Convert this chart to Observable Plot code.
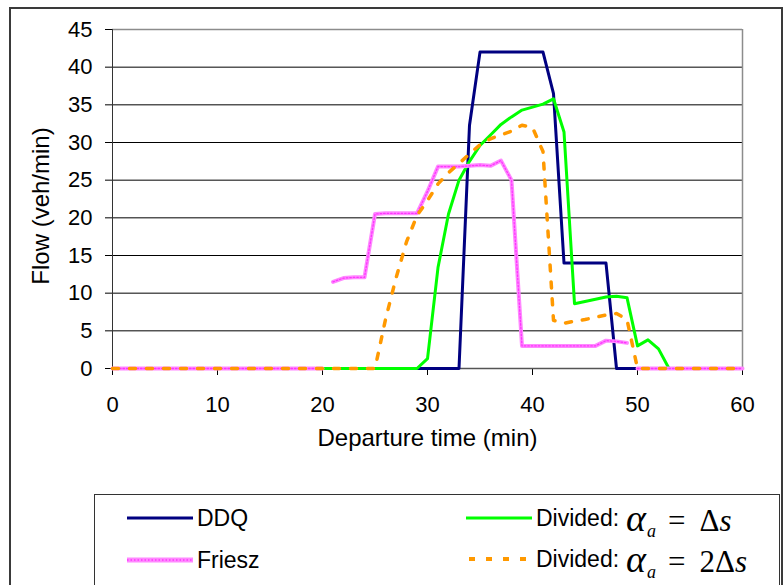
<!DOCTYPE html>
<html>
<head>
<meta charset="utf-8">
<script src="https://cdn.jsdelivr.net/npm/d3@7"></script>
<script src="https://cdn.jsdelivr.net/npm/@observablehq/plot@0.6"></script>
<style>
  html, body { margin: 0; padding: 0; background: #fff; }
  #wrap { position: relative; width: 784px; height: 585px; overflow: hidden; font-family: "Liberation Sans", Arial, sans-serif; }
  #outer { position: absolute; left: 9px; top: 7px; width: 770px; height: 600px; border: 2px solid #3a3a3a; }
  #chart { position: absolute; left: 0; top: 0; }
  #legend { position: absolute; left: 94px; top: 494px; width: 684px; height: 120px; border: 1px solid #333; background: #fff; }
  .item { position: absolute; display: flex; align-items: center; font-size: 23px; color: #000; white-space: nowrap; height: 40px; }
  .item svg { margin-right: 4px; }
  .math { font-family: "Liberation Serif", "DejaVu Serif", serif; font-size: 31px; margin-left: 7px; display: inline-flex; align-items: baseline; }
  .math .al { font-size: 38px; }
  .math sub { font-size: 18px; position: relative; top: 6px; margin-left: 1px; line-height: 1; }
  .math .eq { margin: 0 14px 0 12px; }
</style>
</head>
<body>
<div id="wrap">
  <div id="outer"></div>
  <div id="chart"></div>
  <div id="legend">
    <div class="item" style="left:32px; top:3px;"><svg width="66" height="10"><line x1="0" y1="5" x2="66" y2="5" stroke="#000080" stroke-width="3"/></svg>DDQ</div>
    <div class="item" style="left:32px; top:45px;"><svg width="66" height="10"><line x1="0" y1="5" x2="66" y2="5" stroke="#ff88ff" stroke-width="5"/><line x1="0" y1="5" x2="66" y2="5" stroke="#ff33ff" stroke-width="1.5" stroke-dasharray="1.5,2"/></svg>Friesz</div>
    <div class="item" style="left:371px; top:3px;"><svg width="66" height="10"><line x1="0" y1="5" x2="66" y2="5" stroke="#00ff00" stroke-width="3"/></svg>Divided:<span class="math"><i class="al">α</i><sub><i>a</i></sub><span class="eq">=</span>Δ<i>s</i></span></div>
    <div class="item" style="left:371px; top:44px;"><svg width="66" height="10"><line x1="3" y1="5" x2="66" y2="5" stroke="#ff9900" stroke-width="4" stroke-dasharray="6,11"/></svg>Divided:<span class="math"><i class="al">α</i><sub><i>a</i></sub><span class="eq">=</span>2Δ<i>s</i></span></div>
  </div>
</div>
<script>
// ---- data ----
const xTicks = [0, 10, 20, 30, 40, 50, 60];
const yTicks = [0, 5, 10, 15, 20, 25, 30, 35, 40, 45];

const ddqTime = [0, 33, 34, 35, 41, 42, 43, 47, 48, 60];
const ddqFlow = [0, 0, 32.3, 42, 42, 36.5, 14, 14, 0, 0];

const dividedTime = [0, 29, 30, 31, 32, 33, 34, 35, 36, 37, 38, 39, 40, 41, 42, 43, 44, 45, 46, 47, 48, 49, 50, 51, 52, 53, 60];
const dividedFlow = [0, 0, 1.3, 13.4, 20.5, 25, 27.5, 29.6, 31, 32.4, 33.4, 34.3, 34.7, 35.1, 35.8, 31.4, 8.6, 8.9, 9.2, 9.5, 9.6, 9.4, 3.0, 3.8, 2.6, 0, 0];

const frieszTime = [0, 20, 20.5, 21, 22, 23, 24, 25, 26, 27, 28, 29, 30, 31, 32, 33, 34, 35, 36, 37, 38, 39, 40, 41, 42, 43, 44, 45, 46, 47, 48, 49, 49.5, 50, 60];
const frieszFlow = [0, 0, null, 11.5, 12.0, 12.1, 12.1, 20.5, 20.6, 20.6, 20.6, 20.6, 23.5, 26.8, 26.8, 26.8, 26.9, 27.0, 26.9, 27.6, 25, 3, 3, 3, 3, 3, 3, 3, 3, 3.7, 3.6, 3.4, null, 0, 0];

const divided2Time = [0, 25, 26, 27, 28, 29, 30, 31, 32, 33, 34, 35, 36, 37, 38, 39, 40, 41, 42, 43, 44, 45, 46, 47, 48, 49, 50, 60];
const divided2Flow = [0, 0, 6.5, 12, 16.8, 20.3, 22.3, 24.5, 26, 27.2, 28.5, 29.7, 30.5, 31, 31.5, 32.3, 32, 28.8, 6.4, 6.0, 6.3, 6.5, 6.8, 7.1, 7.3, 6.5, 0, 0];

const toRows = (ts, vs) => ts.map((t, i) => ({t, v: vs[i]}));
const ddq = toRows(ddqTime, ddqFlow);
const divided = toRows(dividedTime, dividedFlow);
const friesz = toRows(frieszTime, frieszFlow);
const divided2 = toRows(divided2Time, divided2Flow);

const chart = Plot.plot({
  width: 784,
  height: 490,
  marginLeft: 112,
  marginRight: 42,
  marginTop: 29,
  marginBottom: 122,
  style: { fontFamily: "Liberation Sans, Arial, sans-serif", fontSize: "22px", color: "#000", background: "transparent", overflow: "visible" },
  x: { domain: [0, 60] },
  y: { domain: [0, 45] },
  marks: [
    Plot.gridY(yTicks.filter(d => d > 0 && d < 45), { stroke: "#000", strokeOpacity: 1, strokeWidth: 1 }),
    Plot.ruleY([45], { stroke: "#8c8c8c", strokeWidth: 1.5 }),
    Plot.ruleX([60], { stroke: "#8c8c8c", strokeWidth: 1.5 }),
    Plot.axisY({ ticks: yTicks, tickSize: 7, tickPadding: 13, label: null, fontSize: 22 }),
    Plot.axisX({ ticks: xTicks, tickSize: 7, tickPadding: 21, label: null, fontSize: 22 }),
    Plot.ruleX([0], { stroke: "#333", strokeWidth: 1 }),
    Plot.ruleY([0], { stroke: "#555", strokeWidth: 1.5 }),
    Plot.line(ddq, { x: "t", y: "v", stroke: "#000080", strokeWidth: 3 }),
    Plot.line(divided, { x: "t", y: "v", stroke: "#00ff00", strokeWidth: 3 }),
    Plot.line(friesz, { x: "t", y: "v", stroke: "#ff88ff", strokeWidth: 4 }),
    Plot.line(friesz, { x: "t", y: "v", stroke: "#ff33ff", strokeWidth: 1.3, strokeDasharray: "1.5,2" }),
    Plot.line(divided2, { x: "t", y: "v", stroke: "#ff9900", strokeWidth: 3.5, strokeDasharray: "6,11" }),
    Plot.text(["Departure time (min)"], { frameAnchor: "bottom", dy: 77, fontSize: 24, fill: "#000" }),
    Plot.text(["Flow (veh/min)"], { frameAnchor: "left", textAnchor: "middle", lineAnchor: "middle", dx: -71, dy: 7, rotate: -90, fontSize: 24, fill: "#000" })
  ]
});
document.getElementById("chart").appendChild(chart);
</script>
</body>
</html>
